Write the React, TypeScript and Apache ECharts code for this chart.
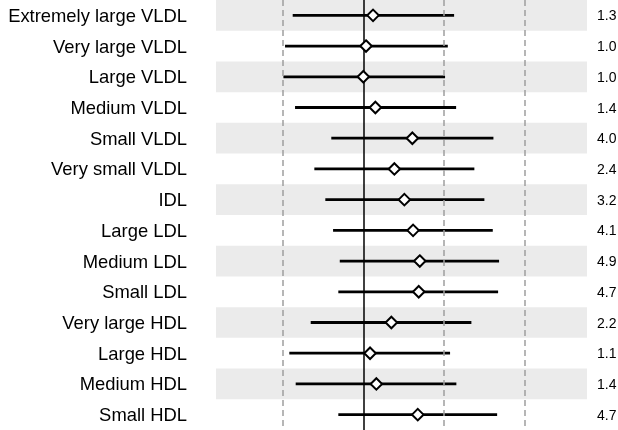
import React, { useEffect, useRef } from "react";
import * as echarts from "echarts";

const categories = [
  "Extremely large VLDL",
  "Very large VLDL",
  "Large VLDL",
  "Medium VLDL",
  "Small VLDL",
  "Very small VLDL",
  "IDL",
  "Large LDL",
  "Medium LDL",
  "Small LDL",
  "Very large HDL",
  "Large HDL",
  "Medium HDL",
  "Small HDL",
];
const estimates = [0.12, 0.033, 0, 0.149, 0.607, 0.384, 0.508, 0.616, 0.699, 0.686, 0.347, 0.083, 0.161, 0.674];
const lower = [-0.875, -0.97, -0.99, -0.846, -0.397, -0.607, -0.471, -0.375, -0.292, -0.31, -0.652, -0.917, -0.838, -0.31];
const upper = [1.124, 1.046, 1.012, 1.149, 1.611, 1.375, 1.499, 1.603, 1.681, 1.669, 1.338, 1.074, 1.152, 1.657];
const rightLabels = ["1.3", "1.0", "1.0", "1.4", "4.0", "2.4", "3.2", "4.1", "4.9", "4.7", "2.2", "1.1", "1.4", "4.7"];
const referenceLines = [-1, 1, 2];
const nullLine = 0;
const X_MIN = -1.825;
const X_MAX = 2.77;

export default function App() {
  const ref = useRef<HTMLDivElement>(null);
  useEffect(() => {
    const chart = echarts.init(ref.current!, null, { renderer: "svg" });
    const ciData = categories.map((_, i) => [i, lower[i], upper[i]]);
    const font = "'Liberation Sans', Arial, sans-serif";
    chart.setOption({
      animation: false,
      grid: { left: 216, right: 31, top: 0, height: 432 },
      xAxis: { type: "value", min: X_MIN, max: X_MAX, show: false },
      yAxis: {
        type: "category",
        data: categories,
        inverse: true,
        axisLine: { show: false },
        axisTick: { show: false },
        splitLine: { show: false },
        splitArea: { show: true, areaStyle: { color: ["#ebebeb", "rgba(255,255,255,0)"] } },
        axisLabel: { fontSize: 18.4, color: "#000", margin: 29, fontFamily: font },
      },
      series: [
        {
          type: "scatter",
          data: [],
          silent: true,
          z: 1,
          markLine: {
            silent: true,
            symbol: "none",
            label: { show: false },
            data: [
              ...referenceLines.map((v) => ({
                xAxis: v,
                lineStyle: { color: "#9e9e9e", width: 1.5, type: [6, 4] },
              })),
              { xAxis: nullLine, lineStyle: { color: "#000", width: 1.5, type: "solid" } },
            ],
          },
        },
        {
          type: "custom",
          z: 3,
          silent: true,
          clip: false,
          encode: { x: [1, 2], y: 0 },
          data: ciData,
          renderItem: (_p: any, api: any) => {
            const y = api.value(0);
            const a = api.coord([api.value(1), y]);
            const b = api.coord([api.value(2), y]);
            const r = api.coord([X_MAX, y]);
            return {
              type: "group",
              children: [
                {
                  type: "line",
                  shape: { x1: a[0], y1: a[1], x2: b[0], y2: b[1] },
                  style: { stroke: "#000", lineWidth: 2.8 },
                },
                {
                  type: "text",
                  x: r[0] + 10,
                  y: r[1],
                  style: {
                    text: rightLabels[y],
                    fontSize: 14,
                    fontFamily: font,
                    fill: "#000",
                    align: "left",
                    verticalAlign: "middle",
                  },
                },
              ],
            };
          },
        },
        {
          type: "scatter",
          z: 5,
          silent: true,
          symbol: "diamond",
          symbolSize: 11.5,
          itemStyle: { color: "#fff", borderColor: "#000", borderWidth: 2, opacity: 1 },
          data: estimates.map((e, i) => [e, i]),
        },
      ],
    });
    return () => chart.dispose();
  }, []);
  return <div ref={ref} style={{ position: "fixed", left: 0, top: 0, width: 618, height: 430 }} />;
}
